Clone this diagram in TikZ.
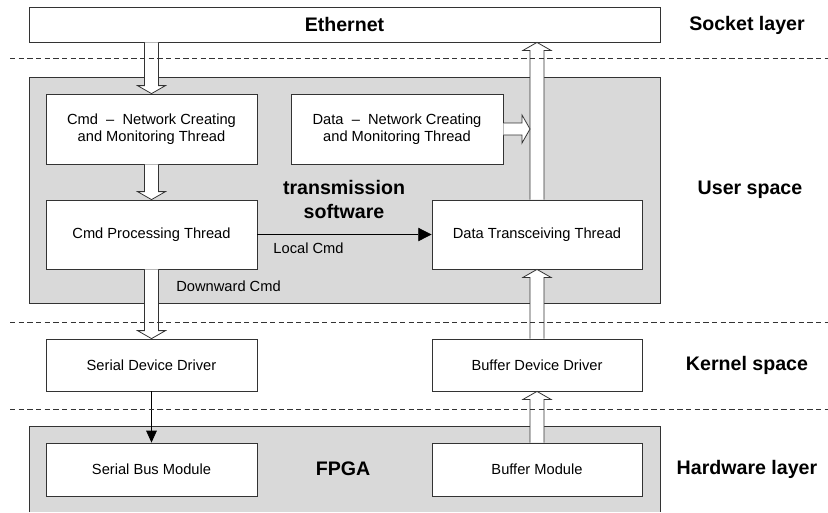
\documentclass[tikz,border=0pt]{standalone}
\usepackage{fontspec}
\setmainfont{Liberation Sans}
\usetikzlibrary{arrows.meta, calc}

% hollow block arrows between two points
\newcommand{\fatdown}[2]{\draw[fat] ($(#1)+(-7,0)$) -- ($(#2)+(-7,-8)$) -- ($(#2)+(-14,-8)$) -- (#2) -- ($(#2)+(14,-8)$) -- ($(#2)+(7,-8)$) -- ($(#1)+(7,0)$);}
\newcommand{\fatup}[2]{\draw[fat] ($(#1)+(-7,0)$) -- ($(#2)+(-7,8)$) -- ($(#2)+(-14,8)$) -- (#2) -- ($(#2)+(14,8)$) -- ($(#2)+(7,8)$) -- ($(#1)+(7,0)$);}
\newcommand{\fatright}[2]{\draw[fat] ($(#1)+(0,-6)$) -- ($(#2)+(-8,-6)$) -- ($(#2)+(-8,-14)$) -- (#2) -- ($(#2)+(-8,14)$) -- ($(#2)+(-8,6)$) -- ($(#1)+(0,6)$);}

\begin{document}
\begin{tikzpicture}[x=0.75pt, y=-0.75pt, line width=0.6pt,
    box/.style={draw=black!80, fill=white, font=\fontsize{11}{13}\selectfont, align=center, inner sep=0pt},
    layer/.style={font=\fontsize{14.7}{18}\selectfont\bfseries},
    fat/.style={draw=black!80, fill=white},
    thin/.style={draw=black, -{Triangle[length=9pt, width=8pt]}},
    sep/.style={draw=black!80, dash pattern=on 4pt off 2.5pt}]
        \useasboundingbox (0,0) rectangle (828,512);
        \filldraw[draw=black!80, fill=gray!30] (29,77) rectangle (660,303);
        \fill[gray!30] (29,426) rectangle (660,512);
        \draw[black!80] (29,512) -- (29,426) -- (660,426) -- (660,512);
        \node[box, minimum width=473.25pt, minimum height=26.25pt, font=\fontsize{14.7}{18}\selectfont\bfseries] (eth) at (344.5,24.5) {Ethernet};
        \node[box, minimum width=158.25pt, minimum height=52.5pt] (cmdnet) at (151.5,129) {Cmd~~--~~Network Creating\\and Monitoring Thread};
        \node[box, minimum width=159pt, minimum height=52.5pt] (datanet) at (397,129) {Data~~--~~Network Creating\\and Monitoring Thread};
        \node[box, minimum width=158.25pt, minimum height=51.75pt] (cmdproc) at (151.5,234.5) {Cmd Processing Thread};
        \node[box, minimum width=157.5pt, minimum height=51.75pt] (datatx) at (537,234.5) {Data Transceiving Thread};
        \node[box, minimum width=158.25pt, minimum height=39pt] (serdrv) at (151.5,365) {Serial Device Driver};
        \node[box, minimum width=157.5pt, minimum height=39pt] (bufdrv) at (537,365) {Buffer Device Driver};
        \node[box, minimum width=158.25pt, minimum height=39.75pt] (serbus) at (151.5,469.5) {Serial Bus Module};
        \node[box, minimum width=157.5pt, minimum height=39.75pt] (bufmod) at (537,469.5) {Buffer Module};
        \node[layer, align=center] (sw) at (344,199) {transmission\\software};
        \node[layer] (fpga) at (343,469) {FPGA};
        \node[layer] (socket) at (747,25) {Socket layer};
        \node[layer] (user) at (750,190) {User space};
        \node[layer] (kernel) at (747,365) {Kernel space};
        \node[layer] (hw) at (747,469) {Hardware layer};
        \coordinate (upleft) at ($(datatx.north)+(-7,0)$);
        \fatdown{eth.south -| cmdnet.north}{cmdnet.north}
        \fatdown{cmdnet.south}{cmdproc.north}
        \fatdown{cmdproc.south}{serdrv.north}
        \fatup{bufmod.north}{bufdrv.south}
        \fatup{bufdrv.north}{datatx.south}
        \fatup{datatx.north}{datatx.north |- eth.south}
        \fatright{datanet.east}{datanet.east -| upleft}
        \draw[thin, -{Triangle[length=10pt, width=10pt]}] (cmdproc.east) -- (datatx.west) node[pos=0.09, below right, font=\fontsize{11}{13}\selectfont, inner sep=0pt, yshift=-6pt] (local) {Local Cmd};
        \draw[thin] (serdrv.south) -- (serbus.north);
        \node[font=\fontsize{11}{13}\selectfont, anchor=west, inner sep=0pt] (down) at (176,286) {Downward Cmd};
        \draw[sep] (10,58) -- (828,58);
        \draw[sep] (10,322) -- (828,322);
        \draw[sep] (10,409) -- (828,409);
    \end{tikzpicture}
\end{document}
